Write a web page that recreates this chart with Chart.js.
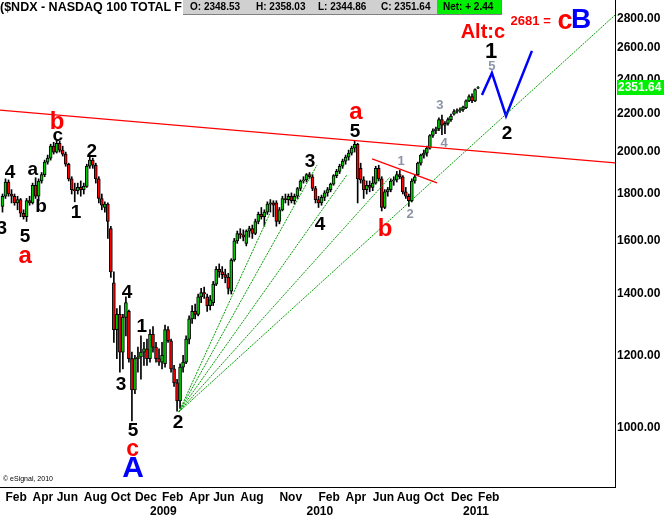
<!DOCTYPE html>
<html>
<head>
<meta charset="utf-8">
<title>$NDX weekly</title>
<script src="https://cdn.jsdelivr.net/npm/chart.js@4/dist/chart.umd.min.js"></script>
<style>
  html, body { margin: 0; padding: 0; background: #fff; }
  #wrap { position: relative; width: 666px; height: 518px; overflow: hidden; font-family: 'Liberation Sans', Arial, sans-serif; }
  #chart { position: absolute; left: 0; top: 0; }
  #title { position: absolute; left: 0; top: 0; font-size: 12.5px; font-weight: bold; white-space: nowrap; line-height: 15px; }
  #quote { position: absolute; left: 183px; top: 0; width: 318px; height: 14px; background: #d0d0d0; border-right: 1px solid #808080; border-bottom: 1px solid #808080; font-size: 10px; font-weight: bold; line-height: 14px; }
  #quote span { position: absolute; top: 0; white-space: nowrap; }
  #net { position: absolute; left: 254px; top: 0; width: 64px; height: 14px; background: #00ee00; }
  #copy { position: absolute; left: 3px; top: 475px; font-size: 7px; white-space: nowrap; }
</style>
</head>
<body>
<div id="wrap">
  <canvas id="chart" width="666" height="518"></canvas>
  <div id="title">($NDX - NASDAQ 100 TOTAL F</div>
  <div id="quote">
    <span style="left:7px">O: 2348.53</span>
    <span style="left:73px">H: 2358.03</span>
    <span style="left:135px">L: 2344.86</span>
    <span style="left:198px">C: 2351.64</span>
    <div id="net"></div>
    <span style="left:260px">Net: + 2.44</span>
  </div>
  <div id="copy">&copy; eSignal, 2010</div>
</div>
<script>
// weekly bars, index 0 = week of 28 Jan 2008
const opens = [
  1745, 1790, 1855, 1800, 1790, 1760, 1775, 1715, 1700, 1770,
  1760, 1840, 1790, 1860, 1890, 1950, 1970, 2030, 2000, 2045,
  2010, 1990, 1940, 1870, 1820, 1815, 1830, 1820, 1835, 1930,
  1960, 1935, 1870, 1780, 1740, 1755, 1650, 1440, 1280, 1330,
  1210, 1320, 1340, 1190, 1100, 1190, 1195, 1210, 1220, 1190,
  1265, 1225, 1190, 1180, 1175, 1280, 1245, 1160, 1120, 1070,
  1165, 1180, 1250, 1315, 1340, 1330, 1390, 1405, 1390, 1360,
  1370, 1435, 1490, 1480, 1470, 1460, 1410, 1525, 1600, 1630,
  1625, 1590, 1640, 1650, 1630, 1680, 1710, 1700, 1720, 1755,
  1760, 1760, 1680, 1730, 1780, 1775, 1790, 1770, 1790, 1825,
  1860, 1865, 1890, 1880, 1825, 1775, 1760, 1785, 1805, 1820,
  1845, 1885, 1905, 1930, 1955, 1975, 1995, 2020, 2040, 1920,
  1865, 1820, 1840, 1830, 1850, 1920, 1870, 1740, 1810, 1820,
  1860, 1865, 1890, 1880, 1810, 1790, 1770, 1860, 1890, 1945,
  1985, 1995, 2020, 2085, 2110, 2120, 2170, 2140, 2150, 2170,
  2200, 2215, 2220, 2225, 2235, 2275, 2300, 2275, 2348.53
];
const highs = [
  1800, 1870, 1865, 1820, 1800, 1790, 1780, 1730, 1780, 1790,
  1850, 1875, 1870, 1900, 1960, 1985, 2040, 2050, 2060, 2055,
  2030, 2000, 1945, 1880, 1850, 1850, 1860, 1850, 1940, 1975,
  1970, 1945, 1880, 1800, 1765, 1760, 1660, 1480, 1350, 1360,
  1330, 1390, 1345, 1210, 1200, 1225, 1260, 1240, 1250, 1280,
  1290, 1240, 1220, 1240, 1295, 1290, 1250, 1170, 1130, 1175,
  1200, 1260, 1325, 1360, 1365, 1400, 1420, 1425, 1400, 1395,
  1445, 1500, 1510, 1500, 1490, 1475, 1530, 1610, 1640, 1650,
  1645, 1645, 1660, 1665, 1690, 1720, 1740, 1730, 1765, 1775,
  1770, 1770, 1740, 1790, 1800, 1800, 1805, 1800, 1830, 1865,
  1880, 1895, 1900, 1890, 1835, 1790, 1795, 1815, 1830, 1850,
  1890, 1915, 1940, 1965, 1985, 2010, 2030, 2060, 2045, 1945,
  1880, 1860, 1860, 1880, 1930, 1935, 1880, 1820, 1830, 1870,
  1880, 1905, 1910, 1885, 1830, 1800, 1870, 1890, 1950, 1990,
  2010, 2030, 2090, 2120, 2130, 2180, 2195, 2160, 2180, 2200,
  2225, 2230, 2235, 2245, 2280, 2310, 2315, 2345, 2358.03
];
const lows = [
  1720, 1780, 1790, 1760, 1750, 1730, 1700, 1690, 1680, 1750,
  1755, 1780, 1770, 1850, 1880, 1940, 1960, 1990, 1995, 2000,
  1980, 1930, 1860, 1800, 1765, 1800, 1790, 1800, 1830, 1920,
  1920, 1850, 1760, 1730, 1720, 1610, 1460, 1240, 1190, 1150,
  1160, 1260, 1180, 1018, 1090, 1150, 1130, 1170, 1170, 1180,
  1210, 1180, 1170, 1160, 1165, 1240, 1150, 1110, 1043, 1050,
  1150, 1175, 1235, 1300, 1315, 1325, 1370, 1385, 1340, 1345,
  1360, 1430, 1460, 1455, 1440, 1400, 1400, 1520, 1590, 1610,
  1600, 1580, 1615, 1610, 1625, 1670, 1690, 1660, 1710, 1720,
  1700, 1660, 1670, 1725, 1760, 1750, 1760, 1755, 1780, 1815,
  1850, 1855, 1870, 1815, 1760, 1740, 1750, 1770, 1790, 1810,
  1840, 1875, 1895, 1920, 1940, 1960, 1985, 2000, 1760, 1850,
  1780, 1800, 1810, 1815, 1845, 1860, 1725, 1735, 1790, 1810,
  1840, 1855, 1870, 1800, 1780, 1745, 1765, 1850, 1885, 1935,
  1970, 1980, 2015, 2075, 2095, 2110, 2090, 2095, 2140, 2160,
  2195, 2205, 2210, 2215, 2230, 2270, 2265, 2270, 2344.86
];
const closes = [
  1790, 1855, 1800, 1790, 1760, 1775, 1715, 1700, 1770, 1760,
  1840, 1790, 1860, 1890, 1950, 1970, 2030, 2000, 2045, 2010,
  1990, 1940, 1870, 1820, 1815, 1830, 1820, 1835, 1930, 1960,
  1935, 1870, 1780, 1750, 1755, 1680, 1480, 1280, 1330, 1210,
  1320, 1370, 1190, 1100, 1190, 1195, 1210, 1220, 1190, 1265,
  1225, 1190, 1180, 1200, 1280, 1245, 1160, 1120, 1070, 1165,
  1180, 1250, 1315, 1340, 1330, 1390, 1405, 1400, 1360, 1380,
  1435, 1490, 1480, 1470, 1460, 1420, 1525, 1600, 1630, 1625,
  1615, 1640, 1650, 1630, 1680, 1710, 1700, 1720, 1755, 1760,
  1750, 1680, 1730, 1780, 1775, 1790, 1770, 1790, 1825, 1860,
  1865, 1890, 1880, 1825, 1775, 1760, 1785, 1805, 1820, 1845,
  1885, 1905, 1930, 1955, 1975, 1995, 2020, 2040, 1870, 1865,
  1820, 1840, 1830, 1850, 1920, 1870, 1740, 1810, 1820, 1860,
  1865, 1890, 1880, 1810, 1790, 1770, 1860, 1880, 1945, 1985,
  1995, 2020, 2085, 2110, 2120, 2170, 2140, 2150, 2170, 2190,
  2215, 2220, 2225, 2240, 2275, 2300, 2275, 2340, 2351.64
];

// axis labels: [week index, text]
const monthTicks = [
  [1, 'Feb'], [10, 'Apr'], [18, 'Jun'], [27, 'Aug'], [36, 'Oct'], [44, 'Dec'],
  [53, 'Feb'], [62, 'Apr'], [70, 'Jun'], [79, 'Aug'], [92, 'Nov'],
  [105, 'Feb'], [114, 'Apr'], [123, 'Jun'], [131, 'Aug'], [140, 'Oct'], [149, 'Dec'],
  [158, 'Feb']
];
const yearTicks = [[49, '2009'], [101, '2010'], [153, '2011']];
const priceTicks = [1000, 1200, 1400, 1600, 1800, 2000, 2200, 2400, 2600, 2800];

// drawn lines: [week index, price]
const resistance = [[-1, 2223], [204, 1946]];
const shortResistance = [[122.8, 1966], [144.4, 1851]];
const fanOrigin = [58.6, 1041];
const fanEnds = [[88.9, 1716], [104.5, 1936], [114.4, 1888], [128.7, 1878], [203.5, 2822]];
const projection = [[159.3, 2309], [162.6, 2440], [167.3, 2190], [175.9, 2579]];

// wave counts: [week index, price, text, style]
const waveLabels = [
  [-0.2, 1649, '3', 'wave'], [2.5, 1898, '4', 'wave'], [10.1, 1912, 'a', 'wave'],
  [12.8, 1742, 'b', 'wave'], [7.5, 1616, '5', 'wave'], [7.5, 1537, 'a', 'red'],
  [18.1, 2157, 'b', 'red'], [18.4, 2083, 'c', 'wave'], [29.7, 2001, '2', 'wave'],
  [24.4, 1716, '1', 'wave'], [41.4, 1404, '4', 'wave'], [46.3, 1289, '1', 'wave'],
  [39.4, 1114, '3', 'wave'], [43.4, 992, '5', 'wave'], [43.2, 946, 'c', 'redSmall'],
  [43.4, 903, 'A', 'blueA'], [58.3, 1013, '2', 'wave'],
  [102.2, 1951, '3', 'wave'], [105.5, 1665, '4', 'wave'],
  [117.4, 2212, 'a', 'red'], [117.1, 2104, '5', 'wave'], [127.1, 1645, 'b', 'red'],
  [132.4, 1956, '1', 'minor'], [135.4, 1712, '2', 'minor'], [145.3, 2251, '3', 'minor'],
  [146.7, 2046, '4', 'minor'], [162.6, 2483, '5', 'minor'],
  [162.3, 2572, '1', 'waveBig'], [159.6, 2698, 'Alt:c', 'alt'], [167.6, 2093, '2', 'wave'],
  [173.6, 2780, '2681', 'target'], [180.9, 2780, '=', 'target'],
  [186.9, 2775, 'c', 'redC'], [192.2, 2787, 'B', 'blueB']
];

const FONT = "'Liberation Sans', Arial, sans-serif";
const labelStyles = {
  wave: { color: '#000', size: 19 },
  waveBig: { color: '#000', size: 22 },
  red: { color: '#ff0000', size: 24 },
  redSmall: { color: '#ff0000', size: 23 },
  minor: { color: '#8c94a4', size: 13 },
  blueA: { color: '#0000ff', size: 30 },
  blueB: { color: '#0000ff', size: 28 },
  redC: { color: '#ff0000', size: 27 },
  alt: { color: '#ff0000', size: 20 },
  target: { color: '#ff0000', size: 13 }
};

const up = '#00cc00';
const down = '#ff0000';

const xTickList = monthTicks.map(t => [t[0], t[1]])
  .concat(yearTicks.map(t => [t[0], ['', t[1]]]))
  .sort((a, b) => a[0] - b[0]);

const lineSet = (points, color, width, dash) => ({
  type: 'line',
  data: points.map(p => ({ x: p[0], y: p[1] })),
  borderColor: color,
  borderWidth: width,
  borderDash: dash || [],
  pointRadius: 0,
  fill: false,
  tension: 0,
  order: 0
});

const datasets = [
  lineSet(resistance, '#ff0000', 1.3),
  lineSet(shortResistance, '#ff0000', 1.3),
  ...fanEnds.map(end => lineSet([fanOrigin, end], '#00a000', 1, [2, 1])),
  lineSet(projection, '#0000ff', 2.5),
  {
    label: 'body',
    data: closes.map((c, i) => ({ x: i, y: [opens[i], c] })),
    backgroundColor: closes.map((c, i) => (c >= opens[i] ? up : down)),
    borderColor: '#000',
    borderWidth: 1,
    borderSkipped: false,
    barThickness: 3,
    grouped: false,
    order: 1
  },
  {
    label: 'wick',
    data: highs.map((h, i) => ({ x: i, y: [lows[i], h] })),
    backgroundColor: '#000',
    borderWidth: 0,
    barThickness: 1,
    grouped: false,
    order: 2
  }
];

const labelPlugin = {
  id: 'waveLabels',
  afterDatasetsDraw(chart) {
    const { ctx, scales: { x, y } } = chart;
    ctx.save();
    ctx.textAlign = 'center';
    ctx.textBaseline = 'middle';
    waveLabels.forEach(([week, price, text, kind]) => {
      const st = labelStyles[kind];
      ctx.font = 'bold ' + st.size + 'px ' + FONT;
      ctx.fillStyle = st.color;
      ctx.fillText(text, x.getPixelForValue(week), y.getPixelForValue(price));
    });
    ctx.restore();
  },
  afterDraw(chart) {
    // last price tag on the axis
    const { ctx, scales: { y } } = chart;
    const last = closes[closes.length - 1];
    const py = Math.round(y.getPixelForValue(last));
    ctx.save();
    ctx.fillStyle = '#00ee00';
    ctx.fillRect(y.left + 2, py - 8, 47, 15);
    ctx.fillStyle = '#fff';
    ctx.font = 'bold 12px ' + FONT;
    ctx.textBaseline = 'middle';
    ctx.fillText(last.toFixed(2), y.left + 3, py);
    ctx.restore();
  }
};

const ctx = document.getElementById('chart').getContext('2d');
new Chart(ctx, {
  type: 'bar',
  data: { datasets: datasets },
  options: {
    responsive: false,
    animation: false,
    devicePixelRatio: 1,
    layout: { padding: 0 },
    plugins: { legend: { display: false }, tooltip: { enabled: false } },
    scales: {
      x: {
        type: 'linear',
        min: -0.83,
        max: 203.5,
        offset: false,
        bounds: 'data',
        grid: { display: false, drawTicks: false },
        border: { display: true, color: '#000', width: 1 },
        afterBuildTicks: (s) => { s.ticks = xTickList.map(t => ({ value: t[0] })); },
        afterFit: (s) => { s.height = 31; s.paddingLeft = 0; s.paddingRight = 0; },
        ticks: {
          autoSkip: false,
          maxRotation: 0,
          minRotation: 0,
          align: 'start',
          padding: 3,
          color: '#000',
          font: { family: FONT, size: 12, weight: 'bold' },
          callback: (v) => {
            const t = xTickList.find(e => e[0] === v);
            return t ? t[1] : '';
          }
        }
      },
      y: {
        type: 'logarithmic',
        position: 'right',
        min: 862,
        max: 2931,
        bounds: 'data',
        grid: { display: false, drawTicks: false },
        border: { display: true, color: '#000', width: 1 },
        afterBuildTicks: (s) => { s.ticks = priceTicks.map(v => ({ value: v })); },
        afterFit: (s) => { s.width = 51; s.paddingTop = 0; s.paddingBottom = 0; },
        ticks: {
          padding: 2,
          color: '#000',
          font: { family: FONT, size: 12, weight: 'bold' },
          callback: (v) => Number(v).toFixed(2)
        }
      }
    }
  },
  plugins: [labelPlugin]
});
</script>
</body>
</html>
